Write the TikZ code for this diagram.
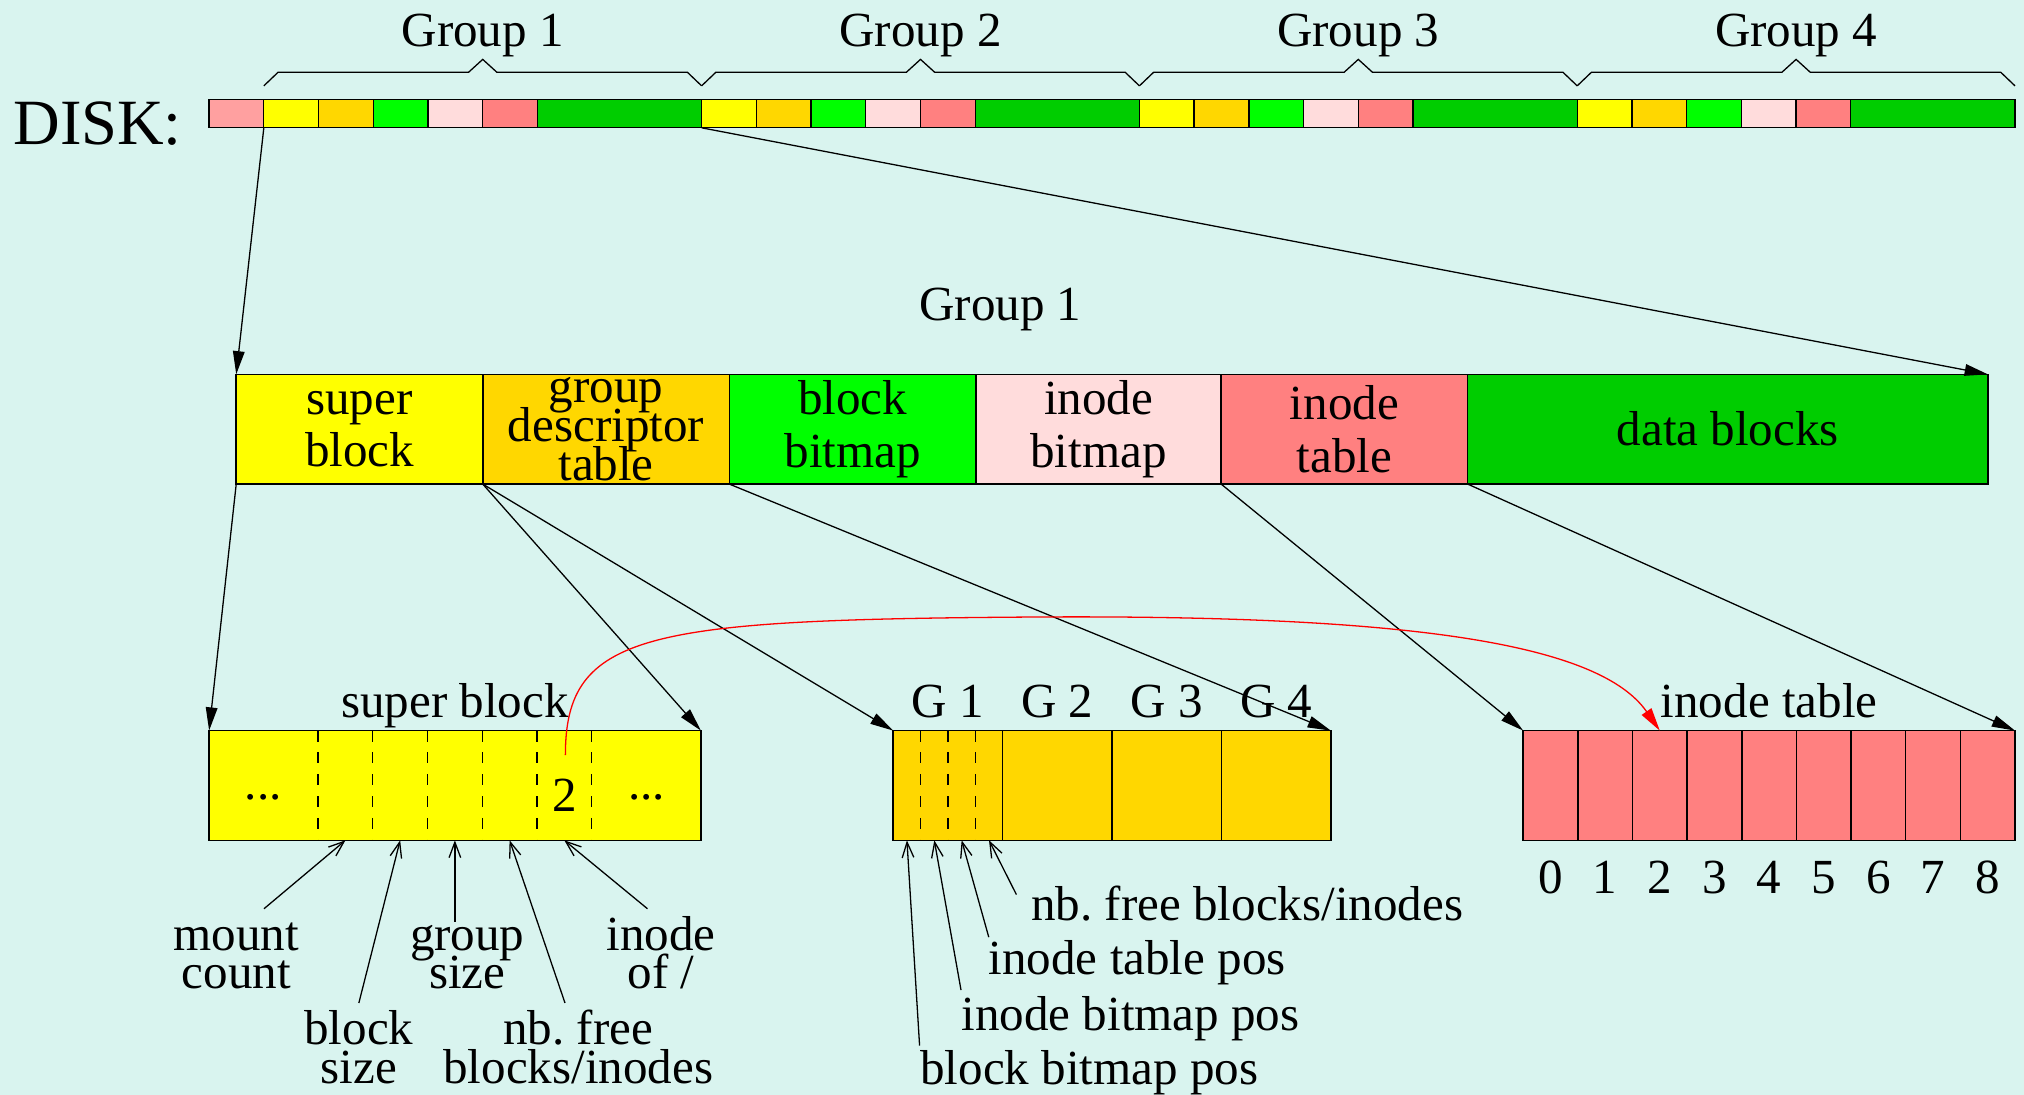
\documentclass[tikz,border=0pt]{standalone}
\usepackage{fontspec}
\setmainfont{Liberation Serif}
\usetikzlibrary{arrows.meta}
\definecolor{bgc}{RGB}{217,244,239}
\definecolor{cpinka}{RGB}{255,160,160}
\definecolor{cyel}{RGB}{255,255,0}
\definecolor{cgold}{RGB}{255,215,0}
\definecolor{cgrn}{RGB}{0,255,0}
\definecolor{clpink}{RGB}{255,220,220}
\definecolor{csalmon}{RGB}{255,128,128}
\definecolor{cdkgrn}{RGB}{0,205,0}
\tikzset{
  box/.style={draw=black, line width=0.6pt, inner sep=0pt, outer sep=0pt, anchor=north west},
  dcell/.style={box, line width=0.5pt, minimum height=11pt},
  gcell/.style={box, minimum height=42.5pt, align=center, font=\fontsize{19}{20.5}\selectfont,
    execute at begin node={\lineskiplimit=-50pt\relax}},
  lbl/.style={inner sep=0pt, outer sep=0pt, font=\fontsize{19}{15}\selectfont, align=center,
    execute at begin node={\lineskiplimit=-50pt\relax}},
  farrow/.style={line width=0.5pt, -{Triangle[length=9pt,width=4.5pt]}},
  oarrow/.style={line width=0.5pt, -{Straight Barb[length=6pt,width=4.5pt]}},
  dline/.style={line width=0.5pt, dash pattern=on 4.25pt off 4.2pt},
  bracepath/.style={line width=0.5pt},
  redarrow/.style={red, line width=0.5pt, -{Triangle[length=9pt,width=4.5pt]}},
}
\begin{document}
\begin{tikzpicture}[x=0.5pt,y=-0.5pt]
\fill[bgc] (0,0) rectangle (1568,848);
\useasboundingbox (0,0) rectangle (1568,848);
\pgfmathsetmacro\cw{(1561-162)/33}
\pgfmathsetmacro\cwpt{\cw/2}
\pgfmathsetmacro\cwptt{3*\cw/2}
% ---------- disk ----------
\node[font=\fontsize{25}{30}\selectfont, anchor=base west, inner sep=0pt] (disk) at (10,112) {DISK:};
\node[dcell, fill=cpinka, minimum width=\cwpt pt] (d0) at (162,77) {};
\foreach \gi in {0,1,2,3}{
  \pgfmathsetmacro\xs{162+\cw*(1+8*\gi)}
  \foreach \kk/\col in {0/cyel,1/cgold,2/cgrn,3/clpink,4/csalmon}{
    \pgfmathsetmacro\xx{\xs+\kk*\cw}
    \node[dcell, fill=\col, minimum width=\cwpt pt] (g\gi c\kk) at (\xx,77) {};
  }
  \pgfmathsetmacro\xx{\xs+5*\cw}
  \node[dcell, fill=cdkgrn, minimum width=\cwptt pt] (g\gi c5) at (\xx,77) {};
  \pgfmathsetmacro\xe{\xs+8*\cw}
  \pgfmathsetmacro\xc{(\xs+\xe)/2}
  \pgfmathtruncatemacro\gn{\gi+1}
  \draw[bracepath] (\xs,66.5) -- (\xs+11,56) -- (\xc-11,56) -- (\xc,46) -- (\xc+11,56) -- (\xe-11,56) -- (\xe,66.5);
  \node[lbl, anchor=base] (gl\gi) at (\xc,36) {Group \gn};
}
% ---------- group 1 ----------
\node[lbl, anchor=base] (g1title) at (775,248) {Group 1};
\node[gcell, fill=cyel, minimum width=95.5pt] (gsb) at (183,290) {super\\block};
\node[gcell, fill=cgold, minimum width=95.5pt, font=\fontsize{19}{15}\selectfont] (ggd) at (374,290) {group\\descriptor\\table};
\node[gcell, fill=cgrn, minimum width=95.5pt] (gbb) at (565,290) {block\\bitmap};
\node[gcell, fill=clpink, minimum width=95pt] (gib) at (756,290) {inode\\bitmap};
\node[gcell, fill=csalmon, minimum width=95.5pt] (git) at (946,290) {inode\\table};
\node[gcell, fill=cdkgrn, minimum width=201.5pt] (gdb) at (1137,290) {data blocks};
\draw[farrow] (g0c0.south west) -- (gsb.north west);
\draw[farrow] (g1c0.south west) -- (gdb.north east);
% ---------- super block detail ----------
\node[box, fill=cyel, minimum width=190.5pt, minimum height=42.5pt] (sbd) at (162,566) {};
\foreach \x in {246.4,288.8,331.2,373.6,416,458.4}{
  \draw[dline] (\x,566) -- (\x,651);
}
\node[lbl, anchor=base] (sbtitle) at (352.5,556) {super block};
\node[lbl, anchor=base] (sbl) at (204,619) {...};
\node[lbl, anchor=base] (sbr) at (501,619) {...};
\node[lbl, anchor=base] (sb2) at (437.5,629) {2};
% ---------- group descriptors detail ----------
\foreach \i/\x in {1/692,2/776.75,3/861.5,4/946.25}{
  \node[box, fill=cgold, minimum width=42.375pt, minimum height=42.5pt] (gd\i) at (\x,566) {};
  \node[lbl, anchor=base] (gdl\i) at (\x+42.375,556) {G \i};
}
\foreach \x in {713.2,734.4,755.6}{
  \draw[dline] (\x,566) -- (\x,651);
}
% ---------- inode table detail ----------
\foreach \i in {0,...,8}{
  \node[box, fill=csalmon, minimum width=21.1667pt, minimum height=42.5pt] (it\i) at ({1180+\i*42.3333},566) {};
  \node[lbl, anchor=base] (itn\i) at ({1180+(\i+0.5)*42.3333},692) {\i};
}
\node[lbl, anchor=base] (ittitle) at (1370.5,556) {inode table};
% ---------- connectors from group 1 ----------
\draw[farrow] (gsb.south west) -- (sbd.north west);
\draw[farrow] (gsb.south east) -- (sbd.north east);
\draw[farrow] (ggd.south west) -- (gd1.north west);
\draw[farrow] (ggd.south east) -- (gd4.north east);
\draw[farrow] (git.south west) -- (it0.north west);
\draw[farrow] (git.south east) -- (it8.north east);
% ---------- red link ----------
\coordinate (rs) at (438,585);
\draw[redarrow] (rs) .. controls (438,490) and (500,480) .. (800,478) .. controls (1100,476) and (1240,500) .. (it2.north);
% ---------- super block field labels (base = last line) ----------
\node[lbl, anchor=base] (lmc) at (183,766) {mount\\count};
\node[lbl, anchor=base] (lbs) at (278,839) {block\\size};
\node[lbl, anchor=base] (lgs) at (362,766) {group\\size};
\node[lbl, anchor=base] (lnf) at (448,839) {nb.\ free\\blocks/inodes};
\node[lbl, anchor=base] (lio) at (512,766) {inode\\of /};
\coordinate (amc) at (204.5,704);  \coordinate (tmc) at (267.6,651);
\coordinate (abs) at (278,777);    \coordinate (tbs) at (310,651);
\coordinate (ags) at (352.4,714);  \coordinate (tgs) at (352.4,651);
\coordinate (anf) at (437.7,777);  \coordinate (tnf) at (394.8,651);
\coordinate (aio) at (501.6,704);  \coordinate (tio) at (437.2,651);
\draw[oarrow] (amc) -- (tmc);
\draw[oarrow] (abs) -- (tbs);
\draw[oarrow] (ags) -- (tgs);
\draw[oarrow] (anf) -- (tnf);
\draw[oarrow] (aio) -- (tio);
% ---------- group descriptor field labels ----------
\node[lbl, anchor=base west] (lgnf) at (799,713) {nb.\ free blocks/inodes};
\node[lbl, anchor=base west] (lgit) at (766,755) {inode table pos};
\node[lbl, anchor=base west] (lgib) at (745,798) {inode bitmap pos};
\node[lbl, anchor=base west] (lgbb) at (713,840) {block bitmap pos};
\coordinate (agbb) at (712.4,810); \coordinate (tgbb) at (702.6,651);
\coordinate (agib) at (744.5,767); \coordinate (tgib) at (723.8,651);
\coordinate (agit) at (766,726);   \coordinate (tgit) at (745,651);
\coordinate (agnf) at (787.4,693); \coordinate (tgnf) at (766.2,651);
\draw[oarrow] (agbb) -- (tgbb);
\draw[oarrow] (agib) -- (tgib);
\draw[oarrow] (agit) -- (tgit);
\draw[oarrow] (agnf) -- (tgnf);
\end{tikzpicture}
\end{document}
